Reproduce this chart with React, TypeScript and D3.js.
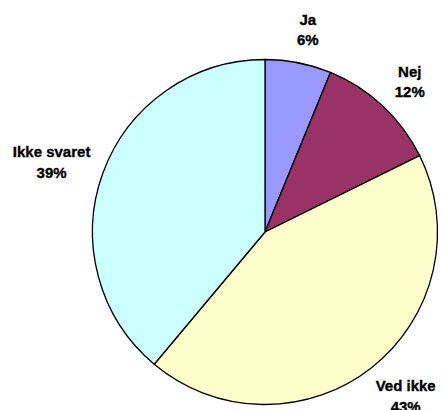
import React from "react";
import * as d3 from "d3";

const categories = ["Ja", "Nej", "Ved ikke", "Ikke svaret"];
const values = [6.2, 11.5, 43.4, 38.9];
const colors = ["#9999FF", "#993366", "#FFFFCC", "#CCFFFF"];

const W = 443;
const H = 410;
const CX = 265;
const CY = 232;
const R = 172.5;
const LABEL_R = 192;
const LABEL_SHIFT_X = 3.5;
const LABEL_SHIFT_Y = 1.5;
const FONT = 15;
const FONT_FAMILY = "'Liberation Sans', Arial, Helvetica, sans-serif";
const LINE_GAP = 20.7;
const CAP = 10.3;

function measure(text: string): number {
  if (typeof document === "undefined") return text.length * FONT * 0.6;
  const c = document.createElement("canvas").getContext("2d");
  if (!c) return text.length * FONT * 0.6;
  c.font = `bold ${FONT}px ${FONT_FAMILY}`;
  return c.measureText(text).width;
}

export default function App() {
  const data = categories.map((c, i) => ({ name: c, value: values[i], color: colors[i] }));
  const pie = d3.pie<any>().value((d: any) => d.value).sort(null).startAngle(0).endAngle(2 * Math.PI);
  const arcs = pie(data);
  const arcGen = d3.arc<any>().innerRadius(0).outerRadius(R);

  return (
    <svg
      width={W}
      height={H}
      viewBox={`0 0 ${W} ${H}`}
      style={{ position: "absolute", left: 0, top: 0, background: "#fff" }}
    >
      <g transform={`translate(${CX},${CY})`}>
        {arcs.map((a, i) => (
          <path key={i} d={arcGen(a) as string} fill={a.data.color} stroke="#000" strokeWidth={1.3} strokeLinejoin="round" />
        ))}
      </g>
      {arcs.map((a, i) => {
        const mid = (a.startAngle + a.endAngle) / 2;
        const ux = Math.sin(mid);
        const uy = -Math.cos(mid);
        const l1 = a.data.name;
        const l2 = `${Math.round(a.data.value)}%`;
        const w = Math.max(measure(l1), measure(l2));
        const h = LINE_GAP + CAP;
        const cx = CX + LABEL_R * ux + (ux * w) / 2 + LABEL_SHIFT_X;
        const cy = CY + LABEL_R * uy + (uy * h) / 2 + LABEL_SHIFT_Y;
        const b1 = cy - h / 2 + CAP;
        return (
          <text
            key={i}
            textAnchor="middle"
            fontFamily={FONT_FAMILY}
            fontWeight={700}
            fontSize={FONT}
            fill="#000"
            stroke="#000"
            strokeWidth={0.35}
          >
            <tspan x={cx} y={b1}>{l1}</tspan>
            <tspan x={cx} y={b1 + LINE_GAP}>{l2}</tspan>
          </text>
        );
      })}
    </svg>
  );
}
